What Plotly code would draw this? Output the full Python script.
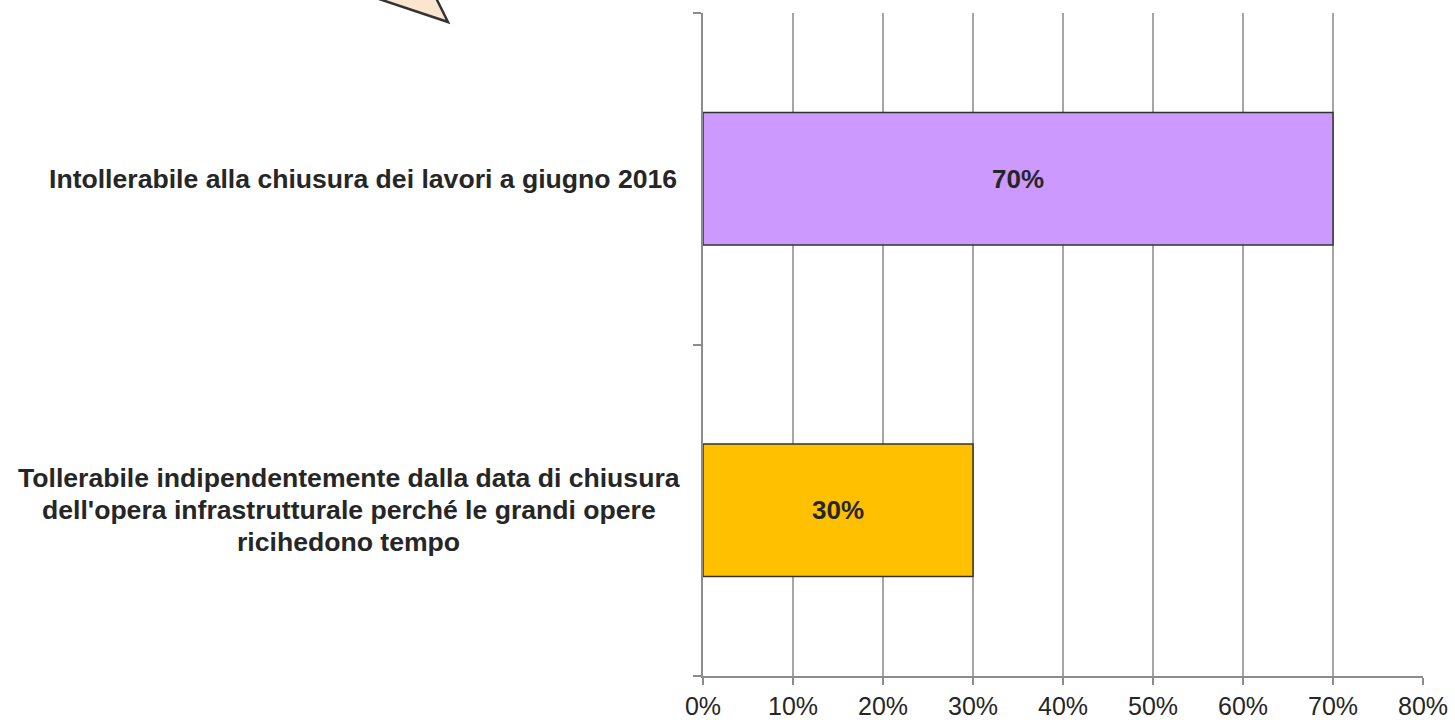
import plotly.graph_objects as go

categories = [
    "Tollerabile indipendentemente dalla data di chiusura<br>dell'opera infrastrutturale perché le grandi opere<br>ricihedono tempo",
    "Intollerabile alla chiusura dei lavori a giugno 2016",
]
values = [0.30, 0.70]
bar_colors = ["#FFC000", "#CC99FF"]
value_labels = ["30%", "70%"]
tick_vals = [0, 0.1, 0.2, 0.3, 0.4, 0.5, 0.6, 0.7, 0.8]
tick_text = ["0%", "10%", "20%", "30%", "40%", "50%", "60%", "70%", "80%"]

W, H = 1455, 720
L, R, T, B = 703, 32, 13, 44
pw, ph = W - L - R, H - T - B

def px(x):
    return (x - L) / pw

def py(y):
    return (H - B - y) / ph

FONT = "Liberation Sans, Arial"
LBL = 26.6
LABEL_CENTER = 348.5   # horizontal centre of the category label block (px)
LINE_GAP = 32

fig = go.Figure()
fig.add_trace(go.Bar(
    y=categories, x=values, orientation="h",
    marker=dict(color=bar_colors, line=dict(color="#333333", width=1.5)),
    text=value_labels, textposition="inside", insidetextanchor="middle",
    textfont=dict(family=FONT, size=26, color="#262626", weight="bold"),
    width=0.4, hoverinfo="skip",
))

for cat in categories:
    lines = cat.split("<br>")
    n = len(lines)
    for i, ln in enumerate(lines):
        if n == 1:
            fig.add_annotation(
                x=0, xref="paper", y=cat, yref="y", xanchor="right", yanchor="middle",
                xshift=-24, text=ln, showarrow=False,
                font=dict(family=FONT, size=LBL, color="#262626", weight="bold"),
            )
        else:
            fig.add_annotation(
                x=px(LABEL_CENTER), xref="paper", y=cat, yref="y",
                xanchor="center", yanchor="middle", text=ln, showarrow=False,
                font=dict(family=FONT, size=LBL, color="#262626", weight="bold"),
                yshift=((n - 1) / 2 - i) * LINE_GAP,
            )

# decorative callout tail at top left
pts = [(352, -10), (432, -10), (448, 22)]
path = "M " + " L ".join(f"{px(a)},{py(b)}" for a, b in pts) + " Z"
fig.add_shape(type="path", path=path, xref="paper", yref="paper",
              fillcolor="#FBE5CF", line=dict(color="#333333", width=2.5), layer="above")

fig.update_layout(
    width=W, height=H, margin=dict(l=L, r=R, t=T, b=B),
    plot_bgcolor="white", paper_bgcolor="white", showlegend=False,
    bargap=0.6,
)
fig.update_xaxes(
    range=[0, 0.8], tickvals=tick_vals, ticktext=tick_text,
    showgrid=True, gridcolor="#A6A6A6", gridwidth=1.5,
    showline=True, linecolor="#8C8C8C", linewidth=2,
    ticks="outside", ticklen=7, tickcolor="#8C8C8C", tickwidth=2,
    tickfont=dict(family=FONT, size=25, color="#262626"),
    zeroline=False, automargin=False,
)
fig.update_yaxes(
    range=[-0.5, 1.5], showticklabels=False, tickson="boundaries",
    ticks="outside", ticklen=8, tickcolor="#8C8C8C", tickwidth=2,
    showline=True, linecolor="#8C8C8C", linewidth=2, showgrid=False,
    automargin=False,
)

fig.write_html("out.html", config={"displayModeBar": False},
               post_script="document.body.style.margin='0';")
